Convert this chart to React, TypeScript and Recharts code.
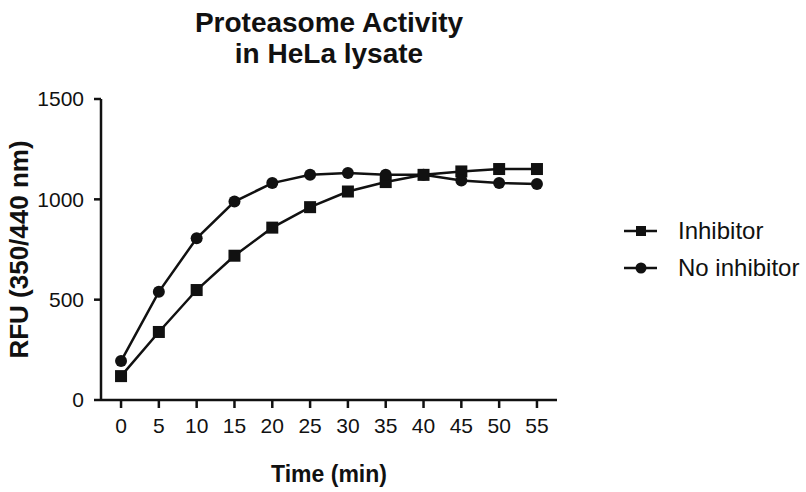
import React from 'react';
import { LineChart, Line, XAxis, YAxis } from 'recharts';

const times = [0, 5, 10, 15, 20, 25, 30, 35, 40, 45, 50, 55];
const inhibitor = [119, 339, 548, 719, 859, 961, 1039, 1086, 1122, 1139, 1151, 1151];
const noInhibitor = [194, 539, 806, 989, 1081, 1122, 1131, 1122, 1122, 1094, 1081, 1076];
const yTicks = [0, 500, 1000, 1500];
const seriesNames = ['Inhibitor', 'No inhibitor'];

const data = times.map((t, i) => ({ time: t, inhibitor: inhibitor[i], noInhibitor: noInhibitor[i] }));

const FONT = '"Liberation Sans", Arial, Helvetica, sans-serif';
const INK = '#111';

// square marker for the inhibitor series
const SquareDot = (props: any) => {
  const { cx, cy, index } = props;
  if (cx == null || cy == null) return <g key={`sq-${index}`} />;
  return <rect key={`sq-${index}`} x={cx - 6} y={cy - 6} width={12} height={12} fill={INK} />;
};

const CircleDot = (props: any) => {
  const { cx, cy, index } = props;
  if (cx == null || cy == null) return <g key={`ci-${index}`} />;
  return <circle key={`ci-${index}`} cx={cx} cy={cy} r={6} fill={INK} />;
};

const LegendBox = () => (
  <div style={{ position: 'absolute', left: 624, top: 213, fontFamily: FONT, fontSize: 24, color: INK }}>
    {seriesNames.map((name, i) => (
      <div key={name} style={{ display: 'flex', alignItems: 'center', height: 36.5 }}>
        <svg width={34} height={20} style={{ marginRight: 20 }}>
          <line x1={0} y1={10} x2={33} y2={10} stroke={INK} strokeWidth={2.5} />
          {i === 0 ? <rect x={12} y={5} width={10} height={10} fill={INK} /> : <circle cx={17} cy={10} r={5.5} fill={INK} />}
        </svg>
        <span>{name}</span>
      </div>
    ))}
  </div>
);

export default function App() {
  return (
    <div style={{ position: 'absolute', left: 0, top: 0, width: 806, height: 492, background: '#fff' }}>
      <div
        style={{
          position: 'absolute', left: 0, top: 6.5, width: 658, textAlign: 'center',
          fontFamily: FONT, fontWeight: 'bold', fontSize: 28, lineHeight: '31px', color: INK,
        }}
      >
        Proteasome Activity
        <br />
        in HeLa lysate
      </div>
      <LineChart width={806} height={492} data={data} margin={{ top: 99, right: 249, left: 0, bottom: 0 }}>
        <XAxis
          dataKey="time"
          type="number"
          domain={[-2.65, 57.65]}
          ticks={times}
          interval={0}
          height={92}
          tickSize={8}
          tickMargin={10}
          axisLine={{ stroke: INK, strokeWidth: 2.5 }}
          tickLine={{ stroke: INK, strokeWidth: 2.5 }}
          tick={{ fill: INK, fontSize: 21, fontFamily: FONT }}
          label={{
            value: 'Time (min)', position: 'insideBottom', offset: 10.5,
            style: { fill: INK, fontSize: 23, fontWeight: 'bold', fontFamily: FONT },
          }}
        />
        <YAxis
          domain={[0, 1500]}
          ticks={yTicks}
          interval={0}
          width={101}
          tickSize={7}
          tickMargin={10}
          axisLine={{ stroke: INK, strokeWidth: 2.5 }}
          tickLine={{ stroke: INK, strokeWidth: 2.5 }}
          tick={{ fill: INK, fontSize: 21, fontFamily: FONT }}
          label={{
            value: 'RFU (350/440 nm)', angle: -90, position: 'insideLeft', offset: 19,
            style: { fill: INK, fontSize: 26, fontWeight: 'bold', fontFamily: FONT, textAnchor: 'middle' },
          }}
        />
        <Line
          dataKey="inhibitor"
          name={seriesNames[0]}
          stroke={INK}
          strokeWidth={2.5}
          dot={SquareDot}
          activeDot={false}
          isAnimationActive={false}
        />
        <Line
          dataKey="noInhibitor"
          name={seriesNames[1]}
          stroke={INK}
          strokeWidth={2.5}
          dot={CircleDot}
          activeDot={false}
          isAnimationActive={false}
        />
      </LineChart>
      <LegendBox />
    </div>
  );
}
